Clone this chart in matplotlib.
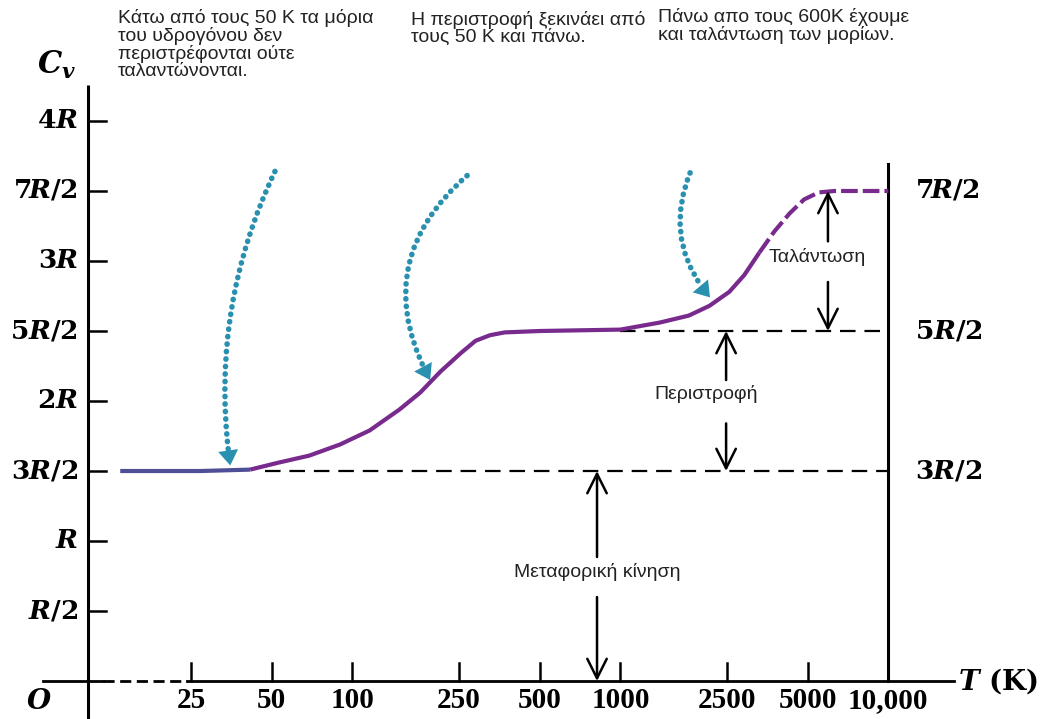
import numpy as np
import matplotlib.pyplot as plt

plt.rcParams['mathtext.fontset'] = 'custom'
plt.rcParams['mathtext.rm'] = 'DejaVu Serif:bold'
plt.rcParams['mathtext.it'] = 'DejaVu Serif:italic:bold'
plt.rcParams['mathtext.bf'] = 'DejaVu Serif:bold'

# Molar heat capacity of H2 (in units of R) against temperature (K)
temps = [13.6, 27, 41.5, 53, 69, 90, 116, 150, 179, 213, 253, 288, 326, 370, 500,
         1000, 1400, 1800, 2150, 2550, 2900, 3300, 3750, 4280, 4850, 5500, 6300, 10000]
cv = [1.5, 1.5, 1.51, 1.56, 1.61, 1.69, 1.79, 1.94, 2.06, 2.21, 2.34, 2.43, 2.47, 2.49, 2.5,
      2.51, 2.56, 2.61, 2.68, 2.78, 2.9, 3.06, 3.21, 3.34, 3.44, 3.49, 3.5, 3.5]

t_ticks = [25, 50, 100, 250, 500, 1000, 2500, 5000, 10000]
t_labels = ['25', '50', '100', '250', '500', '1000', '2500', '5000', '10,000']
y_ticks = [0.5, 1, 1.5, 2, 2.5, 3, 3.5, 4]
y_labels = [r'$R/2$', r'$R$', r'$3R/2$', r'$2R$', r'$5R/2$', r'$3R$', r'$7R/2$', r'$4R$']
right_ticks = [1.5, 2.5, 3.5]
right_labels = [r'$3R/2$', r'$5R/2$', r'$7R/2$']

notes = ['Κάτω από τους 50 K τα μόρια\nτου υδρογόνου δεν\nπεριστρέφονται ούτε\nταλαντώνονται.',
         'Η περιστροφή ξεκινάει από\nτους 50 K και πάνω.',
         'Πάνω απο τους 600K έχουμε\nκαι ταλάντωση των μορίων.']

purple = '#782a8d'
teal = '#2a90b0'

fig = plt.figure(figsize=(10.5, 7.19), dpi=100)
ax = fig.add_axes([0, 0, 1, 1])
ax.set_xscale('log')
ax.set_xlim(4.84, 40100)
ax.set_ylim(-0.271, 4.864)
ax.axis('off')

t_axis = 10.3

# axes drawn by hand
ax.plot([t_axis, t_axis], [-0.3, 4.26], color='k', lw=2.2, solid_capstyle='butt')
ax.plot([7.0, 11.7], [0, 0], color='k', lw=2)
ax.plot([11.7, 24.2], [0, 0], color='k', lw=2, dashes=(4, 2))
ax.plot([24.2, 17500], [0, 0], color='k', lw=2)
ax.plot([10000, 10000], [0, 3.69], color='k', lw=2.2)

for t in t_ticks:
    ax.plot([t, t], [0, 0.13], color='k', lw=1.8)
for v in y_ticks:
    ax.plot([t_axis, 12.05], [v, v], color='k', lw=1.8)

ytr = ax.get_yaxis_transform()
for v, lab in zip(y_ticks, y_labels):
    ax.text(0.074, v, lab, transform=ytr, ha='right', va='center', fontsize=19)
for v, lab in zip(right_ticks, right_labels):
    ax.text(0.871, v, lab, transform=ytr, ha='left', va='center', fontsize=19)
for t, lab in zip(t_ticks, t_labels):
    ax.text(t, -0.14, lab, ha='center', va='center', fontsize=21,
            family='Liberation Serif', weight='bold')
ax.text(0.037, -0.14, r'$O$', transform=ytr, ha='center', va='center', fontsize=20)
ax.text(0.912, 0.0, r'$T$ (K)', transform=ytr, ha='left', va='center', fontsize=20,
        family='DejaVu Serif', weight='bold')
ax.text(0.054, 4.4, r'$C_v$', transform=ytr, ha='center', va='center', fontsize=22)

# reference levels
ax.plot([47, 10000], [1.5, 1.5], color='k', lw=1.6, dashes=(7, 4))
ax.plot([1000, 10000], [2.5, 2.5], color='k', lw=1.6, dashes=(7, 4))

# heat capacity curve: solid up to ~3000 K, dashed above
split = temps.index(3300)
ax.plot(temps[:3], cv[:3], color='#4f4f98', lw=3, solid_capstyle='butt')
ax.plot(temps[2:split + 1], cv[2:split + 1], color=purple, lw=3,
        solid_joinstyle='round', solid_capstyle='butt')
ax.plot(temps[split:], cv[split:], color=purple, lw=3, dashes=(4, 1.2))

# double arrows with labels
head = dict(arrowstyle='->,head_length=0.7,head_width=0.35', lw=1.8, color='k',
            shrinkA=0, shrinkB=0, mutation_scale=20)
arrows = [(818, 0.886, 1.5, 0.6, 0.0, 'Μεταφορική κίνηση', 818, 0.78),
          (2480, 2.15, 2.5, 1.84, 1.5, 'Περιστροφή', 2080, 2.05),
          (5950, 3.14, 3.5, 2.85, 2.5, 'Ταλάντωση', 5450, 3.03)]
for t, up_from, up_to, down_from, down_to, lab, tl, vl in arrows:
    ax.annotate('', xy=(t, up_to), xytext=(t, up_from), arrowprops=head)
    ax.annotate('', xy=(t, down_to), xytext=(t, down_from), arrowprops=head)
    ax.text(tl, vl, lab, ha='center', va='center', fontsize=14,
            family='Liberation Sans', color='#222222')

# dotted pointers
pointers = [((51.4, 3.64), (35, 1.54), 0.15),
            ((268, 3.61), (195, 2.15), 0.4),
            ((1820, 3.63), (2160, 2.74), 0.3)]
for start, end, rad in pointers:
    ax.annotate('', xy=end, xytext=start,
                arrowprops=dict(arrowstyle='-', connectionstyle=f'arc3,rad={rad}',
                                color=teal, lw=4, linestyle=(0, (0.05, 1.3)),
                                capstyle='round', shrinkA=0, shrinkB=10))
    ax.annotate('', xy=end, xytext=start,
                arrowprops=dict(arrowstyle='-|>,head_length=0.6,head_width=0.4',
                                connectionstyle=f'arc3,rad={rad}', color=teal,
                                lw=0.01, shrinkA=0, shrinkB=0, mutation_scale=18))

# notes along the top
for x, y, txt in zip([0.112, 0.391, 0.627], [0.988, 0.985, 0.989], notes):
    fig.text(x, y, txt, ha='left', va='top', fontsize=14, family='Liberation Sans',
             color='#222222', linespacing=1.02)

fig.savefig('out.png', dpi=100)
